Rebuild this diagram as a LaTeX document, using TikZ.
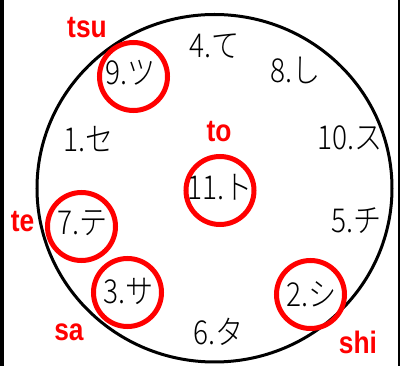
\documentclass[tikz,border=0pt]{standalone}
\usepackage{fontspec}
\usetikzlibrary{shapes.geometric}
\newfontfamily\jpfont[FakeStretch=0.85]{Noto Sans CJK JP Light}
\newfontfamily\labfont[FakeStretch=0.85]{Liberation Sans}
\begin{document}
\begin{tikzpicture}[x=1pt,y=-1pt,
  kana/.style={font=\jpfont\fontsize{33}{33}\selectfont, inner sep=0pt, anchor=base},
  romaji/.style={font=\labfont\bfseries\fontsize{31}{31}\selectfont, text=red, inner sep=0pt},
  ring/.style={circle, draw=red, line width=5pt, minimum size=68pt, inner sep=0pt}]
\useasboundingbox (0,0) rectangle (400,366);
\fill[white] (0,0) rectangle (400,366);
\fill[black] (0,0) rectangle (4,366);
\fill[black] (398,0) rectangle (400,366);
% big circle
\node[ellipse, draw=black, line width=3pt, minimum width=355pt, minimum height=347.5pt, inner sep=0pt] (big) at (214.5,188.25) {};
% red rings
\node[ring] (r9) at (133.5,76.5) {};
\node[ring] (r11) at (220,190.5) {};
\node[ring] (r7) at (81.5,226.5) {};
\node[ring] (r3) at (127.5,292.5) {};
\node[ring] (r2) at (310.5,294.5) {};
% kana labels
\node[kana] (k4) at (215,58) {4.て};
\node[kana] (k8) at (296,83) {8.し};
\node[kana] (k9) at (131,85) {9.ツ};
\node[kana] (k1) at (89,152) {1.セ};
\node[kana] (k10) at (350,150) {10.ス};
\node[kana] (k11) at (220,200) {11.ト};
\node[kana] (k5) at (357,233) {5.チ};
\node[kana] (k7) at (83,235) {7.テ};
\node[kana] (k3) at (129,304) {3.サ};
\node[kana] (k2) at (312,307) {2.シ};
\node[kana] (k6) at (219,345) {6.タ};
% romaji labels
\node[romaji] (tsu) at (87,28) {tsu};
\node[romaji] (to) at (219,132) {to};
\node[romaji] (te) at (22.5,222) {te};
\node[romaji] (sa) at (69,332) {sa};
\node[romaji] (shi) at (358,342) {shi};
\end{tikzpicture}
\end{document}
